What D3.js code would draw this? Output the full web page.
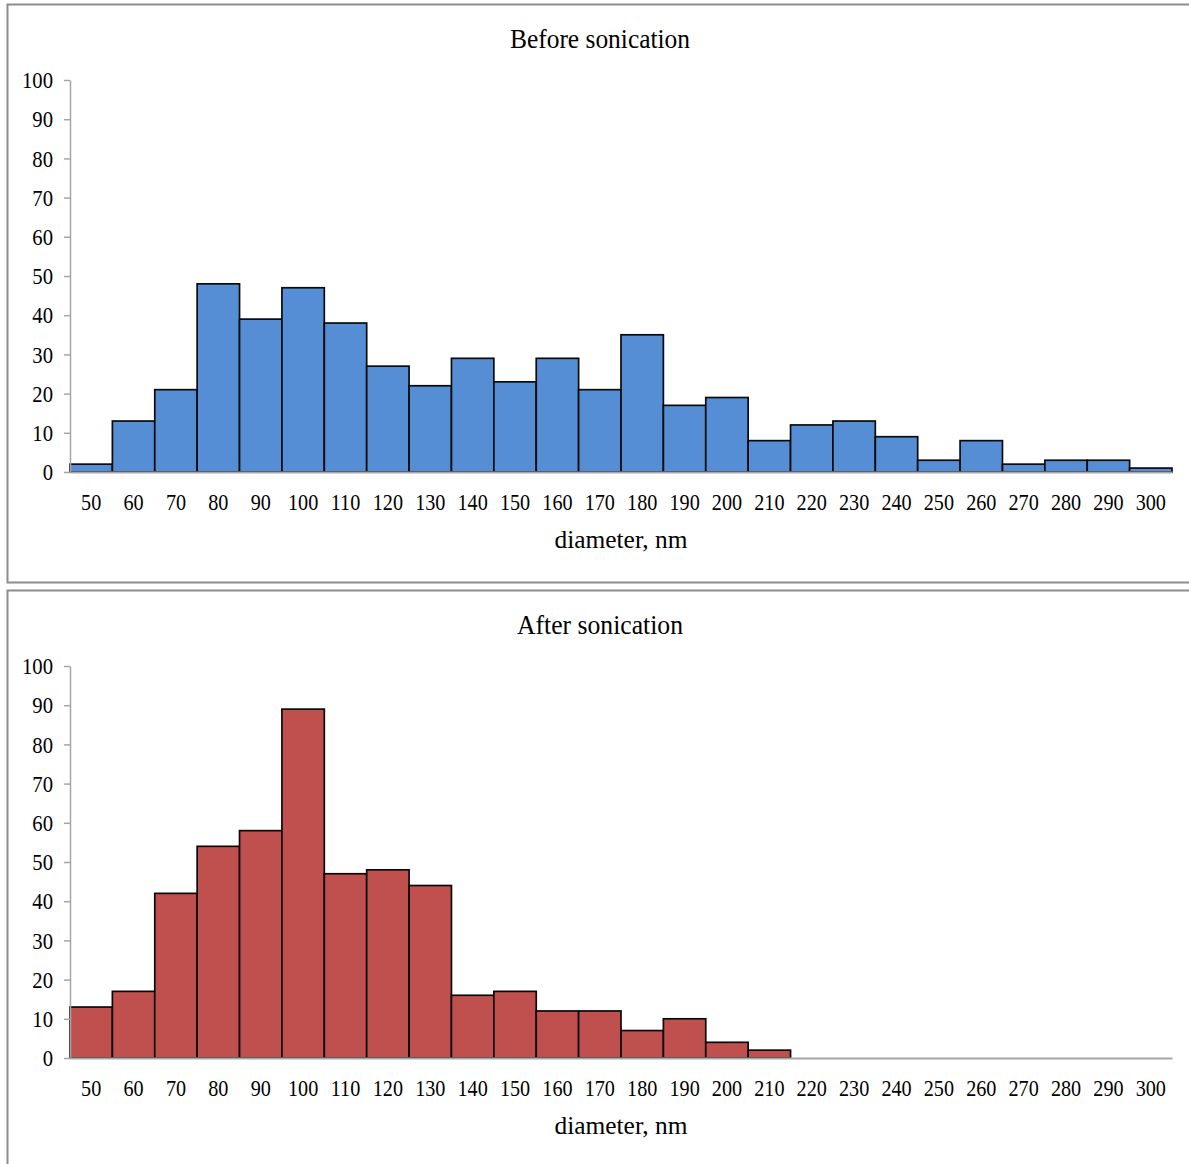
<!DOCTYPE html>
<html>
<head>
<meta charset="utf-8">
<script src="https://cdn.jsdelivr.net/npm/d3@7"></script>
<style>
  body { margin: 0; background: #fff; }
  text { font-family: "Liberation Serif", "Times New Roman", serif; fill: #000; }
</style>
</head>
<body>
<svg id="chart" width="1189" height="1164"></svg>
<script>
const bins = [50, 60, 70, 80, 90, 100, 110, 120, 130, 140, 150, 160, 170,
  180, 190, 200, 210, 220, 230, 240, 250, 260, 270, 280, 290, 300];
const beforeCounts = [2, 13, 21, 48, 39, 47, 38, 27, 22, 29, 23, 29, 21,
  35, 17, 19, 8, 12, 13, 9, 3, 8, 2, 3, 3, 1];
const afterCounts = [13, 17, 42, 54, 58, 89, 47, 48, 44, 16, 17, 12, 12,
  7, 10, 4, 2, 0, 0, 0, 0, 0, 0, 0, 0, 0];
const yTicks = [0, 10, 20, 30, 40, 50, 60, 70, 80, 90, 100];

const panels = [
  { title: "Before sonication", values: beforeCounts, color: "#558ED5", top: 4, titleW: 180 },
  { title: "After sonication", values: afterCounts, color: "#C0504D", top: 590, titleW: 166 }
];

const svg = d3.select("#chart");

// squeeze text a bit horizontally, like the narrow source font
function squeeze(sel, k) {
  sel.each(function () {
    const w = this.getComputedTextLength();
    d3.select(this).attr("textLength", w * k).attr("lengthAdjust", "spacingAndGlyphs");
  });
}

panels.forEach((p) => {
  const off = p.top - 4;
  const g = svg.append("g").attr("transform", `translate(0,${off})`);

  // panel frame (runs off the right/bottom edge in the source)
  g.append("rect")
    .attr("x", 7.5)
    .attr("y", 4.5)
    .attr("width", 1200)
    .attr("height", p.top === 4 ? 578 : 700)
    .attr("fill", "none")
    .attr("stroke", "#8c8c8c")
    .attr("stroke-width", 2);

  const x = d3.scaleBand().domain(bins).range([70, 1172]).padding(0);
  const y = d3.scaleLinear().domain([0, 100]).range([472, 80]);

  // bars
  g.selectAll("rect.bar")
    .data(p.values.map((v, i) => ({ bin: bins[i], v })).filter((d) => d.v > 0))
    .enter()
    .append("rect")
    .attr("class", "bar")
    .attr("x", (d) => x(d.bin))
    .attr("y", (d) => y(d.v))
    .attr("width", x.bandwidth())
    .attr("height", (d) => y(0) - y(d.v))
    .attr("fill", p.color)
    .attr("stroke", "#0a0a0a")
    .attr("stroke-width", 1.7);

  // x axis
  const xAxis = g.append("g")
    .attr("transform", `translate(0,${y(0)})`)
    .call(d3.axisBottom(x).tickSize(0).tickSizeOuter(0));
  xAxis.select(".domain").attr("stroke", "#a6a6a6").attr("stroke-width", 2);
  xAxis.selectAll("text")
    .attr("y", 38)
    .attr("dy", 0)
    .attr("font-size", 24)
    .attr("font-family", "Liberation Serif");
  squeeze(xAxis.selectAll("text"), 0.84);

  // y axis
  const yAxis = g.append("g")
    .attr("transform", "translate(70,0)")
    .call(d3.axisLeft(y).tickValues(yTicks).tickSize(6).tickSizeOuter(0).tickPadding(11));
  yAxis.select(".domain").attr("stroke", "#a6a6a6").attr("stroke-width", 1.5);
  yAxis.selectAll(".tick line").attr("stroke", "#a6a6a6").attr("stroke-width", 1.5);
  yAxis.selectAll("text")
    .attr("font-size", 24)
    .attr("font-family", "Liberation Serif");
  squeeze(yAxis.selectAll("text"), 0.86);

  // title
  g.append("text")
    .attr("x", 600)
    .attr("y", 48)
    .attr("text-anchor", "middle")
    .attr("font-size", 28)
    .attr("textLength", p.titleW)
    .attr("lengthAdjust", "spacingAndGlyphs")
    .text(p.title);

  // x label
  g.append("text")
    .attr("x", 621)
    .attr("y", 548)
    .attr("text-anchor", "middle")
    .attr("font-size", 25)
    .attr("textLength", 133)
    .attr("lengthAdjust", "spacingAndGlyphs")
    .text("diameter, nm");
});
</script>
</body>
</html>
